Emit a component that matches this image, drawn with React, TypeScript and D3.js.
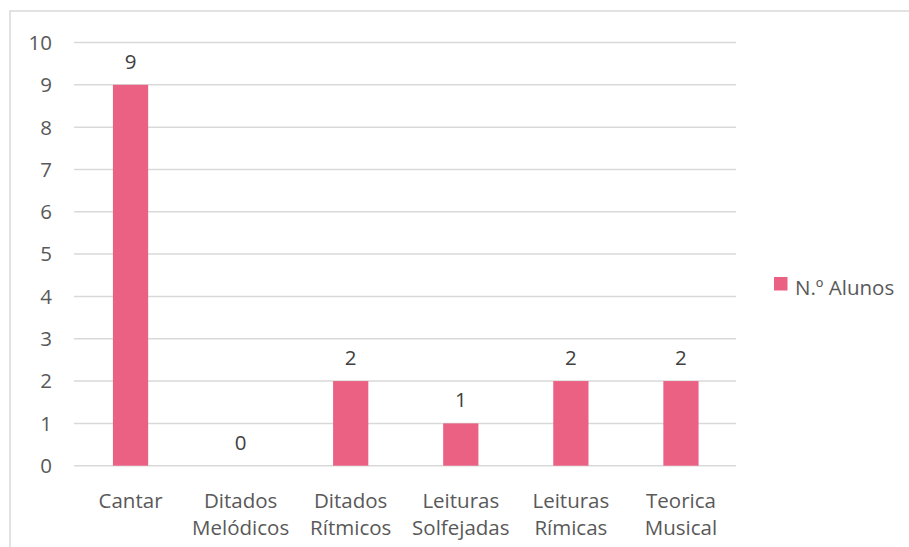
import { useEffect, useRef } from "react";
import * as d3 from "d3";

// chart data
const categories: string[][] = [
  ["Cantar"],
  ["Ditados", "Melódicos"],
  ["Ditados", "Rítmicos"],
  ["Leituras", "Solfejadas"],
  ["Leituras", "Rímicas"],
  ["Teorica", "Musical"],
];
const alunos = [9, 0, 2, 1, 2, 2];
const yTicks = [0, 1, 2, 3, 4, 5, 6, 7, 8, 9, 10];
const seriesName = "N.º Alunos";

const WIDTH = 909;
const HEIGHT = 547;
const PLOT = { left: 75.5, right: 736, top: 42.5, bottom: 465.7 };
const BAR_COLOR = "#eb6184";
const TEXT_COLOR = "#595959";
const GRID_COLOR = "#d9d9d9";
const FONT = "'Open Sans', sans-serif";
const FONT_SIZE = 20.5;

export default function App() {
  const ref = useRef<SVGSVGElement>(null);

  useEffect(() => {
    const svg = d3.select(ref.current);
    svg.selectAll("*").remove();

    const keys = categories.map((c) => c.join(" "));

    const xScale = d3
      .scaleBand()
      .domain(keys)
      .range([PLOT.left, PLOT.right])
      .paddingInner(0.68)
      .paddingOuter(0.34);

    const yScale = d3.scaleLinear().domain([0, 10]).range([PLOT.bottom, PLOT.top]);

    // chart area border
    svg.append("rect")
      .attr("x", 10)
      .attr("y", 11)
      .attr("width", WIDTH + 20)
      .attr("height", HEIGHT + 20)
      .attr("fill", "white")
      .attr("stroke", GRID_COLOR)
      .attr("stroke-width", 1.5);

    // gridlines
    svg.append("g")
      .selectAll("line")
      .data(yTicks)
      .join("line")
      .attr("x1", 74)
      .attr("x2", PLOT.right)
      .attr("y1", (d) => yScale(d))
      .attr("y2", (d) => yScale(d))
      .attr("stroke", GRID_COLOR)
      .attr("stroke-width", 1.5);

    // y tick labels
    svg.append("g")
      .selectAll("text")
      .data(yTicks)
      .join("text")
      .text((d) => d)
      .attr("x", 52)
      .attr("y", (d) => yScale(d))
      .attr("dy", "0.36em")
      .attr("text-anchor", "end")
      .attr("font-family", FONT)
      .attr("font-size", FONT_SIZE)
      .attr("fill", TEXT_COLOR);

    // bars
    svg.append("g")
      .selectAll("rect")
      .data(alunos)
      .join("rect")
      .attr("x", (_, i) => xScale(keys[i])!)
      .attr("y", (d) => yScale(d))
      .attr("width", xScale.bandwidth())
      .attr("height", (d) => yScale(0) - yScale(d))
      .attr("fill", BAR_COLOR);

    // value labels
    svg.append("g")
      .selectAll("text")
      .data(alunos)
      .join("text")
      .text((d) => d)
      .attr("x", (_, i) => xScale(keys[i])! + xScale.bandwidth() / 2)
      .attr("y", (d) => yScale(d) - 16)
      .attr("text-anchor", "middle")
      .attr("font-family", FONT)
      .attr("font-size", FONT_SIZE)
      .attr("fill", "#404040");

    // category labels
    const xLabels = svg.append("g")
      .selectAll("text")
      .data(categories)
      .join("text")
      .attr("x", (_, i) => xScale(keys[i])! + xScale.bandwidth() / 2)
      .attr("y", 507.5)
      .attr("text-anchor", "middle")
      .attr("font-family", FONT)
      .attr("font-size", FONT_SIZE)
      .attr("fill", TEXT_COLOR);

    xLabels.each(function (lines, i) {
      const cx = xScale(keys[i])! + xScale.bandwidth() / 2;
      d3.select(this)
        .selectAll("tspan")
        .data(lines)
        .join("tspan")
        .attr("x", cx)
        .attr("dy", (_, j) => (j === 0 ? 0 : 27.5))
        .text((l) => l);
    });

    // legend
    const legend = svg.append("g").attr("transform", "translate(774,277)");
    legend.append("rect")
      .attr("width", 13.5)
      .attr("height", 13.5)
      .attr("fill", BAR_COLOR);
    legend.append("text")
      .text(seriesName)
      .attr("x", 21)
      .attr("y", 18)
      .attr("font-family", FONT)
      .attr("font-size", FONT_SIZE)
      .attr("fill", TEXT_COLOR);
  }, []);

  return (
    <svg
      ref={ref}
      width={WIDTH}
      height={HEIGHT}
      style={{ position: "absolute", left: 0, top: 0, display: "block" }}
    />
  );
}
